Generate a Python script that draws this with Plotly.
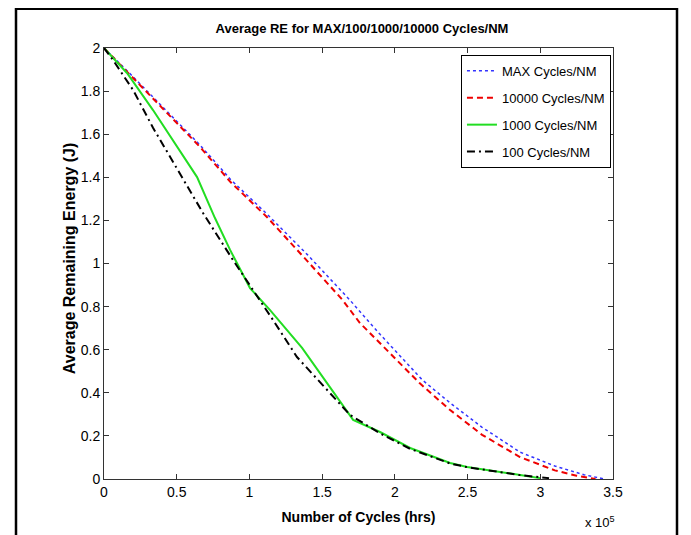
import plotly.graph_objects as go

# x values in units of 10^5 cycles
x_max = [0, 0.18, 0.5, 0.66, 0.87, 1.12, 1.4, 1.69, 1.9, 2.19, 2.38, 2.6, 2.86, 3.1, 3.3, 3.44]
y_max = [2, 1.88, 1.66, 1.55, 1.39, 1.23, 1.04, 0.831, 0.67, 0.459, 0.353, 0.24, 0.125, 0.06, 0.02, 0.0]

x_10000 = [0, 0.18, 0.5, 0.66, 0.87, 1.12, 1.4, 1.64, 1.76, 2.0, 2.17, 2.38, 2.6, 2.86, 3.1, 3.25, 3.38]
y_10000 = [2, 1.875, 1.655, 1.541, 1.378, 1.216, 1.01, 0.831, 0.724, 0.562, 0.445, 0.32, 0.205, 0.102, 0.04, 0.015, 0.0]

x_1000 = [0, 0.158, 0.337, 0.64, 0.763, 0.867, 1.004, 1.142, 1.362, 1.534, 1.713, 1.898, 2.105, 2.38, 2.497, 2.861, 3.0]
y_1000 = [2, 1.884, 1.712, 1.401, 1.211, 1.063, 0.886, 0.784, 0.608, 0.445, 0.274, 0.218, 0.144, 0.074, 0.056, 0.019, 0.004]

x_100 = [0, 0.062, 0.2, 0.337, 0.502, 0.681, 0.887, 1.025, 1.162, 1.327, 1.534, 1.692, 1.898, 2.105, 2.38, 2.497, 2.861, 3.06]
y_100 = [2, 1.944, 1.805, 1.63, 1.44, 1.234, 1.016, 0.877, 0.738, 0.566, 0.413, 0.297, 0.212, 0.14, 0.072, 0.055, 0.018, 0.004]

x_ticks = [0, 0.5, 1, 1.5, 2, 2.5, 3, 3.5]
x_ticktext = ["0", "0.5", "1", "1.5", "2", "2.5", "3", "3.5"]
y_ticks = [0, 0.2, 0.4, 0.6, 0.8, 1, 1.2, 1.4, 1.6, 1.8, 2]
y_ticktext = ["0", "0.2", "0.4", "0.6", "0.8", "1", "1.2", "1.4", "1.6", "1.8", "2"]

FONT = "Liberation Sans, Arial, Helvetica, sans-serif"

fig = go.Figure()
fig.add_trace(go.Scatter(x=x_max, y=y_max, mode="lines", name="MAX Cycles/NM",
                         legendgroup="a",
                         line=dict(color="#3333ff", width=1.5, dash="dot")))
fig.add_trace(go.Scatter(x=x_10000, y=y_10000, mode="lines", name="10000 Cycles/NM",
                         legendgroup="b",
                         line=dict(color="#ee0000", width=2, dash="6px,4px")))
fig.add_trace(go.Scatter(x=x_1000, y=y_1000, mode="lines", name="1000 Cycles/NM",
                         legendgroup="c",
                         line=dict(color="#22dd22", width=2, dash="solid")))
fig.add_trace(go.Scatter(x=x_100, y=y_100, mode="lines", name="100 Cycles/NM",
                         legendgroup="d",
                         line=dict(color="#000000", width=2, dash="8px,4px,2px,4px")))

axis_common = dict(showgrid=False, zeroline=False, showline=True, linecolor="#333333",
                   linewidth=1, mirror="ticks", ticks="inside", ticklen=5,
                   tickcolor="#333333",
                   tickfont=dict(family=FONT, size=14, color="#000000"))

fig.update_xaxes(range=[0, 3.5], tickvals=x_ticks, ticktext=x_ticktext,
                 title=dict(text="<b>Number of Cycles (hrs)</b>",
                            font=dict(family=FONT, size=14, color="#000000"),
                            standoff=13),
                 **axis_common)
fig.update_yaxes(range=[0, 2], tickvals=y_ticks, ticktext=y_ticktext,
                 **axis_common)

W, H = 683, 527
fig.update_layout(
    width=W, height=H,
    margin=dict(l=96, r=78, t=40, b=56),
    paper_bgcolor="white", plot_bgcolor="white",
    title=dict(text="<b>Average RE for MAX/100/1000/10000 Cycles/NM</b>",
               font=dict(family=FONT, size=13, color="#000000"),
               x=354 / W, xref="container", xanchor="center",
               y=1 - 20 / H, yanchor="middle"),
    legend=dict(x=0.996, y=0.984, xanchor="right", yanchor="top",
                bgcolor="white", bordercolor="#000000", borderwidth=1,
                font=dict(family=FONT, size=13, color="#000000"),
                tracegroupgap=7, itemwidth=30),
    showlegend=True,
)

# y-axis title
fig.add_annotation(text="<b>Average Remaining Energy (J)</b>", xref="paper", yref="paper",
                   x=(61 - 96) / 509, y=0.51, xanchor="center", yanchor="middle",
                   textangle=-90, showarrow=False,
                   font=dict(family=FONT, size=16, color="#000000"))

fig.add_annotation(text="x 10<sup>5</sup>", xref="paper", yref="paper",
                   x=0.974, y=-0.1, xanchor="center", yanchor="middle",
                   showarrow=False,
                   font=dict(family=FONT, size=13, color="#000000"))

# outer frame
fig.add_shape(type="rect", xref="paper", yref="paper",
              x0=(8 - 96) / 509, x1=(669 - 96) / 509,
              y0=(471 - 560) / 431, y1=(471 - 0.8) / 431,
              line=dict(color="#000000", width=2.5), layer="below")

fig.write_html("out.html")
